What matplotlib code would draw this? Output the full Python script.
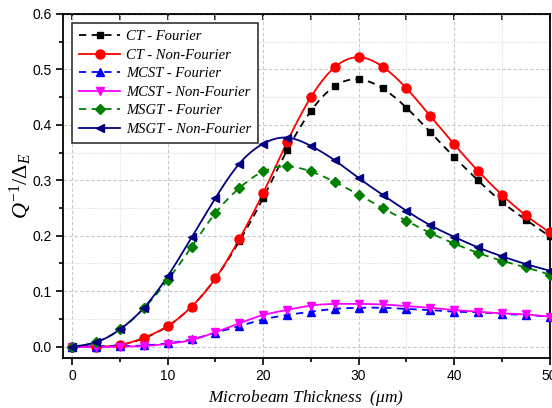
import numpy as np
import matplotlib
matplotlib.use("Agg")
import matplotlib.pyplot as plt
from matplotlib.ticker import MultipleLocator, FormatStrFormatter

plt.rcParams['mathtext.fontset'] = 'custom'
plt.rcParams['mathtext.rm'] = 'Liberation Serif'
plt.rcParams['mathtext.it'] = 'Liberation Serif:italic'

thickness = np.arange(0, 50.1, 2.5)

ct_fourier = [0.0, 0.0, 0.003, 0.015, 0.037, 0.072, 0.123, 0.190, 0.268, 0.354, 0.425,
              0.470, 0.482, 0.466, 0.431, 0.387, 0.342, 0.300, 0.261, 0.229, 0.199]
ct_nonfourier = [0.0, 0.0, 0.003, 0.016, 0.037, 0.072, 0.123, 0.194, 0.277, 0.369, 0.450,
                 0.504, 0.522, 0.505, 0.466, 0.416, 0.365, 0.317, 0.274, 0.237, 0.206]
mcst_fourier = [0.0, 0.0, 0.001, 0.002, 0.006, 0.013, 0.025, 0.037, 0.049, 0.057, 0.063,
                0.068, 0.070, 0.070, 0.068, 0.066, 0.063, 0.062, 0.059, 0.057, 0.054]
mcst_nonfourier = [0.0, -0.001, 0.0, 0.001, 0.005, 0.012, 0.026, 0.042, 0.057, 0.066, 0.074,
                   0.077, 0.077, 0.076, 0.073, 0.070, 0.066, 0.063, 0.060, 0.058, 0.054]
msgt_fourier = [0.0, 0.008, 0.031, 0.069, 0.120, 0.180, 0.241, 0.286, 0.316, 0.325, 0.316,
                0.297, 0.274, 0.250, 0.227, 0.205, 0.186, 0.169, 0.155, 0.143, 0.130]
msgt_nonfourier = [0.0, 0.008, 0.031, 0.070, 0.127, 0.197, 0.268, 0.330, 0.366, 0.377, 0.362,
                   0.336, 0.304, 0.274, 0.245, 0.219, 0.198, 0.179, 0.163, 0.149, 0.137]

series = [
    ("CT - Fourier", ct_fourier, 'black', 's', '--', 5),
    ("CT - Non-Fourier", ct_nonfourier, 'red', 'o', '-', 6.5),
    ("MCST - Fourier", mcst_fourier, 'blue', '^', '--', 6),
    ("MCST - Non-Fourier", mcst_nonfourier, 'magenta', 'v', '-', 6),
    ("MSGT - Fourier", msgt_fourier, 'green', 'D', '--', 5),
    ("MSGT - Non-Fourier", msgt_nonfourier, 'navy', '<', '-', 6),
]


def spline(x, y, n=400):
    # natural cubic spline through the points, for a smooth connecting line
    x = np.asarray(x, float)
    y = np.asarray(y, float)
    h = np.diff(x)
    m = len(x)
    A = np.zeros((m, m))
    b = np.zeros(m)
    A[0, 0] = A[-1, -1] = 1
    for i in range(1, m - 1):
        A[i, i - 1] = h[i - 1]
        A[i, i] = 2 * (h[i - 1] + h[i])
        A[i, i + 1] = h[i]
        b[i] = 3 * ((y[i + 1] - y[i]) / h[i] - (y[i] - y[i - 1]) / h[i - 1])
    c = np.linalg.solve(A, b)
    xs = np.linspace(x[0], x[-1], n)
    idx = np.clip(np.searchsorted(x, xs) - 1, 0, m - 2)
    dx = xs - x[idx]
    bb = (y[idx + 1] - y[idx]) / h[idx] - h[idx] * (2 * c[idx] + c[idx + 1]) / 3
    d = (c[idx + 1] - c[idx]) / (3 * h[idx])
    return xs, y[idx] + bb * dx + c[idx] * dx ** 2 + d * dx ** 3


fig = plt.figure(figsize=(5.52, 4.08), dpi=100)
ax = fig.add_axes([0.1136, 0.1233, 0.882, 0.8424])

handles = []
for label, vals, color, marker, ls, ms in series:
    dash = (4, 3) if ls == '--' else (None, None)
    xs, ys = spline(thickness, vals)
    ax.plot(xs, ys, color=color, ls=ls, lw=1.3, dashes=dash, zorder=3)
    ax.plot(thickness, vals, ls='none', marker=marker, color=color, ms=ms, zorder=4, clip_on=False)
    h, = ax.plot([], [], color=color, ls=ls, lw=1.3, marker=marker, ms=ms, dashes=dash)
    handles.append(h)

ax.set_xlim(-1, 50)
ax.set_ylim(-0.02, 0.6)
ax.xaxis.set_major_locator(MultipleLocator(10))
ax.xaxis.set_minor_locator(MultipleLocator(5))
ax.yaxis.set_major_locator(MultipleLocator(0.1))
ax.yaxis.set_minor_locator(MultipleLocator(0.05))
ax.yaxis.set_major_formatter(FormatStrFormatter('%.1f'))

ax.grid(which='major', color='#c8c8c8', ls=(0, (3, 2)), lw=0.8)
ax.grid(which='minor', color='#e0e0e0', ls=(0, (1, 1)), lw=0.8)
ax.set_axisbelow(True)

ax.tick_params(which='both', direction='out', top=False, right=False, width=1.2)
ax.tick_params(which='major', length=5, labelsize=10, pad=3)
ax.tick_params(which='minor', length=3)
for lab in ax.get_xticklabels() + ax.get_yticklabels():
    lab.set_fontfamily('Liberation Sans')

top = ax.secondary_xaxis('top')
top.xaxis.set_major_locator(MultipleLocator(5))
top.tick_params(direction='in', length=4, width=1.2, labeltop=False)

for s in ax.spines.values():
    s.set_linewidth(1.3)

ax.set_xlabel(r"Microbeam Thickness  ($\mu m$)", fontsize=12.5, fontfamily='Liberation Serif',
              style='italic', labelpad=4)
ax.set_ylabel(r"$Q^{\mathrm{-1}}/\Delta_E$", fontsize=16, labelpad=-1)

leg = ax.legend(handles, [s[0] for s in series], loc='upper left', bbox_to_anchor=(0.019, 0.974),
                prop={'family': 'Liberation Serif', 'style': 'italic', 'size': 10.5},
                handlelength=2.8, labelspacing=0.36, fancybox=False, edgecolor='#333333',
                framealpha=1, borderpad=0.5, handletextpad=0.4, borderaxespad=0)
leg.get_frame().set_linewidth(1.2)

fig.savefig("out.png", dpi=100)
